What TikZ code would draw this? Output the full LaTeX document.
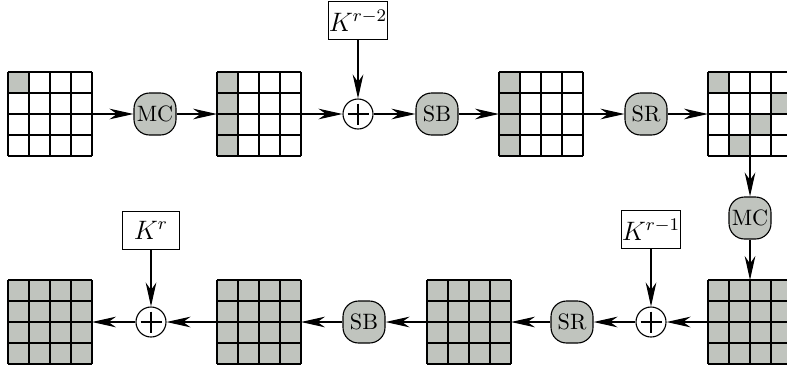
\documentclass[tikz,border=0pt]{standalone}
\usetikzlibrary{arrows.meta,calc}
\definecolor{cellgray}{RGB}{192,196,190}
\tikzset{
 gridbox/.style={draw=none, rectangle, minimum size=37.8pt, inner sep=0pt, outer sep=0pt},
 proc/.style={draw, fill=cellgray, rounded corners=7pt, minimum size=18.9pt, inner sep=0pt, line width=0.5pt},
 xorn/.style={draw, circle, minimum size=13.5pt, inner sep=0pt, line width=0.5pt},
 keybox/.style={draw, rectangle, minimum width=25.7pt, minimum height=17pt, inner sep=0pt, line width=0.5pt, font=\large},
 flow/.style={-{Stealth[length=10.8pt,width=4.8pt,inset=3.4pt]}, line width=0.5pt},
 gridline/.style={line width=0.6pt}
}
\newcommand\stgrid[3]{%
 \node[gridbox] (#1) at (#2) {};
 \foreach \c/\r in {#3} {\fill[cellgray] ($(#1.north west)+(\c*21,\r*21)$) rectangle ++(21,21);}
 \foreach \i in {0,...,4} {\draw[gridline] ($(#1.north west)+(\i*21,0)$) -- ++(0,84);
   \draw[gridline] ($(#1.north west)+(0,\i*21)$) -- ++(84,0);}
}
\newcommand\fullgrid[2]{%
 \node[gridbox] (#1) at (#2) {};
 \fill[cellgray] (#1.north west) rectangle (#1.south east);
 \foreach \i in {0,...,4} {\draw[gridline] ($(#1.north west)+(\i*21,0)$) -- ++(0,84);
   \draw[gridline] ($(#1.north west)+(0,\i*21)$) -- ++(84,0);}
}
\newcommand\xorat[2]{%
 \node[xorn] (#1) at (#2) {};
 \draw[line width=0.5pt] ($(#1)+(-10.5,0)$) -- ($(#1)+(10.5,0)$);
 \draw[line width=0.5pt] ($(#1)+(0,-10.5)$) -- ($(#1)+(0,10.5)$);
}
\begin{document}
\begin{tikzpicture}[x=0.45pt,y=-0.45pt]
\useasboundingbox (0,0) rectangle (787,370);
% top row
\stgrid{g1}{50,114}{0/0}
\stgrid{g2}{259,114}{0/0,0/1,0/2,0/3}
\stgrid{g3}{541,114}{0/0,0/1,0/2,0/3}
\stgrid{g4}{750,114}{0/0,3/1,2/2,1/3}
\node[proc] (mc1) at (155,114) {MC};
\xorat{o1}{358,114}
\node[proc] (sb1) at (437,114) {SB};
\node[proc] (sr1) at (646,114) {SR};
\node[keybox] (k1) at (358,20.5) {$K^{r-2}$};
% right column
\node[proc] (mc2) at (750,218) {MC};
% bottom row
\fullgrid{g5}{750,322}
\fullgrid{g6}{469,322}
\fullgrid{g7}{259,322}
\fullgrid{g8}{50,322}
\xorat{o2}{651,322}
\node[proc] (sr2) at (572,322) {SR};
\node[proc] (sb2) at (364,322) {SB};
\xorat{o3}{151,322}
\node[keybox] (k2) at (651,229.5) {$K^{r-1}$};
\node[keybox] (k3) at (151,230.5) {$K^{r}$};
% connectors
\draw[flow] (g1) -- (mc1);
\draw[flow] (mc1) -- (g2);
\draw[flow] (g2) -- (o1);
\draw[flow] (o1) -- (sb1);
\draw[flow] (sb1) -- (g3);
\draw[flow] (g3) -- (sr1);
\draw[flow] (sr1) -- (g4);
\draw[flow] (k1) -- (o1);
\draw[flow] (g4) -- (mc2);
\draw[flow] (mc2) -- (g5);
\draw[flow] (g5) -- (o2);
\draw[flow] (o2) -- (sr2);
\draw[flow] (sr2) -- (g6);
\draw[flow] (g6) -- (sb2);
\draw[flow] (sb2) -- (g7);
\draw[flow] (g7) -- (o3);
\draw[flow] (o3) -- (g8);
\draw[flow] (k2) -- (o2);
\draw[flow] (k3) -- (o3);
\end{tikzpicture}
\end{document}
